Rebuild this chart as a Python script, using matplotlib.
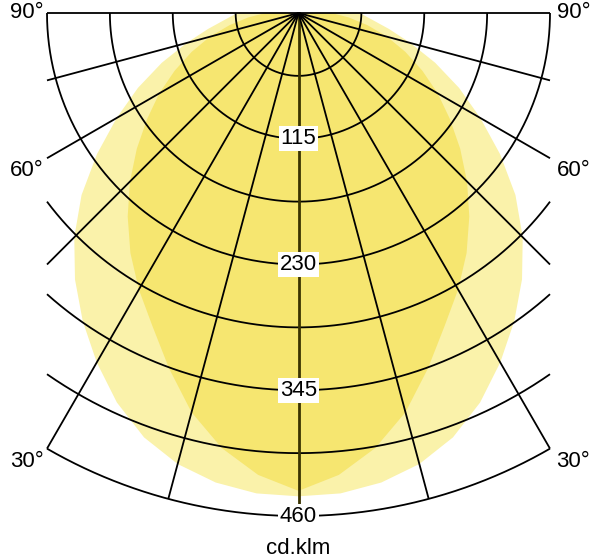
import numpy as np
import matplotlib.pyplot as plt

plt.rcParams['font.family'] = ['Liberation Sans', 'DejaVu Sans']

# light intensity distribution (cd/klm), half curves, angle from nadir
angles_deg = [0, 5, 10, 15, 20, 25, 30, 35, 40, 45, 50, 55, 60, 65, 70, 75, 80, 85, 90]
wide_cdklm = [442, 441, 436, 427, 413, 393, 369, 344, 318, 290, 259, 225, 192, 162, 133, 106, 84, 67, 56]
narrow_cdklm = [437, 424, 404, 378, 346, 316, 292, 268, 243, 218, 193, 169, 147, 125, 104, 84, 64, 46, 30]

# grid
ring_values = [57.5, 115, 172.5, 230, 287.5, 345, 402.5, 460]
ring_labels = [115, 230, 345, 460]
spoke_angles = [0, 15, 30, 45, 60, 75]
side_labels = ['90°', '60°', '30°']
side_label_angles = [90, 60, 30]
unit_label = 'cd.klm'

half_width = 230     # grid is cut at |x| <= half_width
r_max = 460

# figure setup: center at pixel (298.5, 13), 1.0935 px per cd/klm
scale = 1.0935
fig = plt.figure(figsize=(5.93, 5.60), dpi=100)
ax = fig.add_axes([0, 0, 1, 1])
ax.set_xlim(-298.5 / scale, (593 - 298.5) / scale)
ax.set_ylim(-(560 - 13) / scale, 13 / scale)
ax.axis('off')


def full_curve(vals):
    th = np.radians(np.concatenate([-np.array(angles_deg[::-1]), angles_deg[1:]]))
    r = np.concatenate([vals[::-1], vals[1:]])
    return r * np.sin(th), -r * np.cos(th)


# filled curves
xw, yw = full_curve(np.array(wide_cdklm, dtype=float))
ax.fill(xw, yw, color='#faf2aa', lw=0, zorder=1)
xn, yn = full_curve(np.array(narrow_cdklm, dtype=float))
ax.fill(xn, yn, color='#f6e670', lw=0, zorder=2)

line_kw = dict(color='black', lw=1.3, zorder=3, solid_capstyle='butt')

# rings, cut at the side edges
for r in ring_values:
    if r <= half_width:
        tmax = 90.0
    else:
        tmax = np.degrees(np.arcsin(half_width / r))
    t = np.radians(np.linspace(-tmax, tmax, 300))
    ax.plot(r * np.sin(t), -r * np.cos(t), **line_kw)

# spokes
for a in spoke_angles:
    if a == 0:
        ax.plot([0, 0], [0, -r_max], color='#3a3300', lw=2.0, zorder=3)
        continue
    t = np.radians(a)
    r_end = min(r_max, half_width / np.sin(t))
    for sgn in (-1, 1):
        ax.plot([0, sgn * r_end * np.sin(t)], [0, -r_end * np.cos(t)], **line_kw)

# top line (90 deg)
ax.plot([-half_width, half_width], [0, 0], **line_kw)

# ring labels
for v in ring_labels:
    ax.text(0, -v, str(v), ha='center', va='center', fontsize=16, zorder=4,
            bbox=dict(boxstyle='square,pad=0.08', fc='white', ec='none'))

# angle labels at the sides
for lab, a in zip(side_labels, side_label_angles):
    if a == 90:
        y = 0
    else:
        y = -half_width / np.tan(np.radians(a)) - 11.5
    ax.text(-half_width - 3, y, lab, ha='right', va='center', fontsize=16)
    ax.text(half_width + 6, y, lab, ha='left', va='center', fontsize=16)

ax.text(0, -(559 - 13) / scale, unit_label, ha='center', va='bottom', fontsize=16)

fig.savefig('out.png', dpi=100)
